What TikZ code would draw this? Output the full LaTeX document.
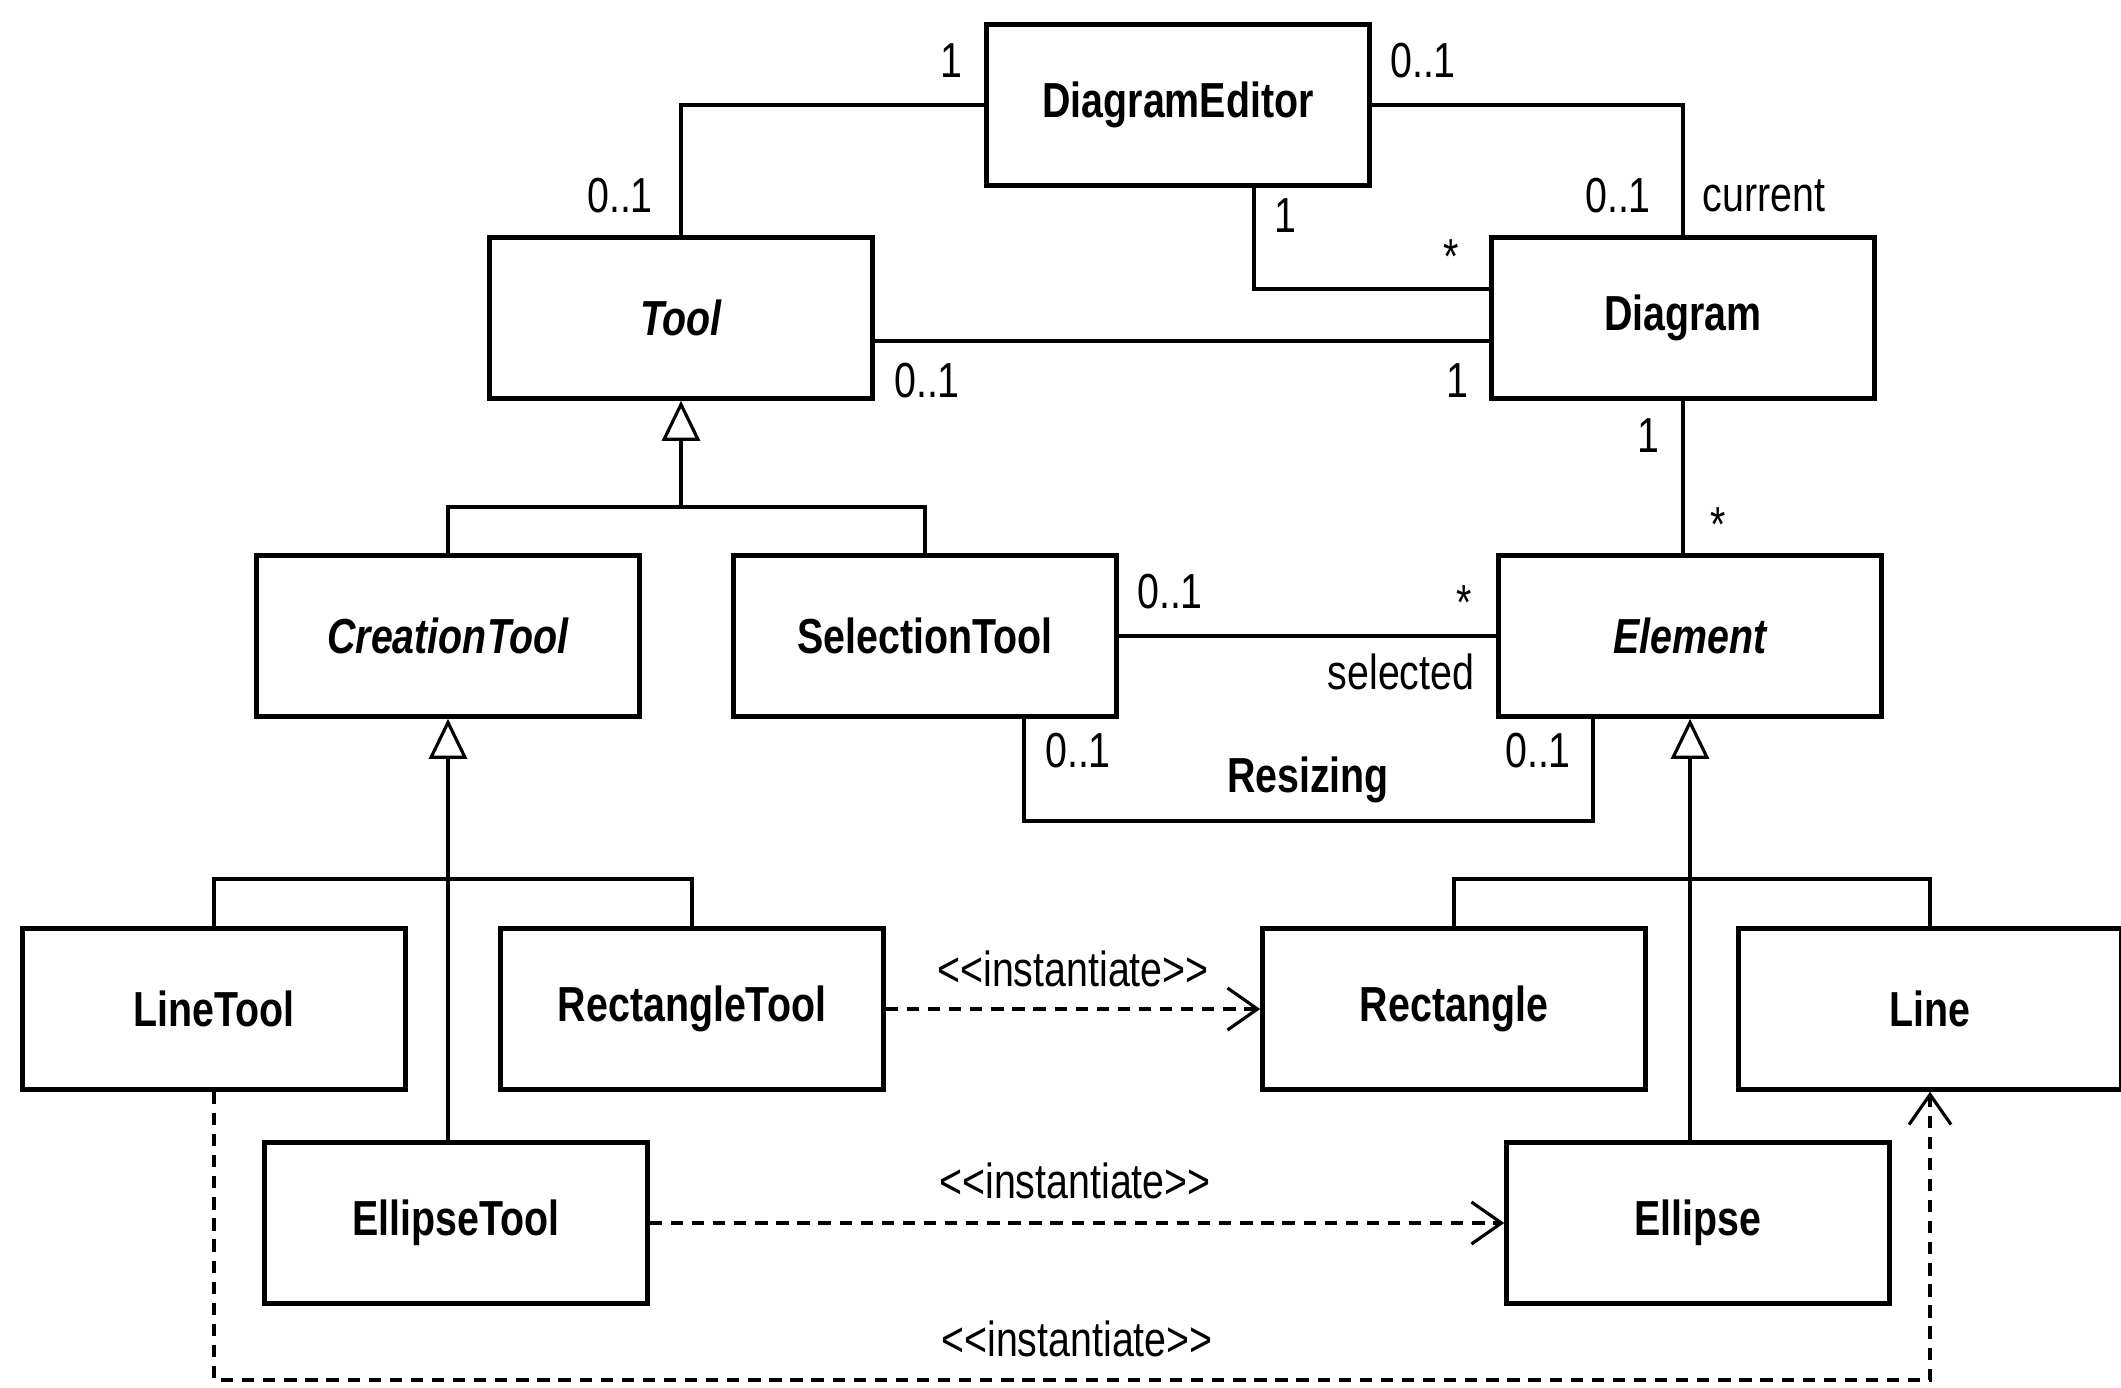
\documentclass[tikz,border=0pt]{standalone}
\usepackage{fontspec}
\setmainfont{Liberation Sans}[FakeStretch=0.8]
\usetikzlibrary{arrows.meta,calc}
\newcommand{\instlabel}{<\kern0pt<instantiate>\kern0pt>}

\begin{document}
\begin{tikzpicture}[x=0.1mm,y=-0.1mm,
    cls/.style={draw,line width=1.3pt,minimum width=3.83cm,minimum height=1.61cm,inner sep=0pt,font=\fontsize{14}{16}\selectfont\bfseries},
    abscls/.style={cls,font=\fontsize{14}{16}\selectfont\bfseries\itshape},
    mult/.style={font=\fontsize{14}{16}\selectfont,inner sep=0pt},
    assoc/.style={line width=0.9pt},
    gen/.style={line width=0.9pt,-{Triangle[open,length=0.4cm,width=0.38cm]}},
    inst/.style={line width=0.9pt,dash pattern=on 3.5pt off 2.5pt,-{Straight Barb[length=0.3cm,width=0.42cm]}}]
\useasboundingbox (0,0) rectangle (2121,1387);
% classes
\node[cls](DE)at(1178,105){DiagramEditor};
\node[abscls](Tool)at(681,318){Tool};
\node[cls](Diagram)at(1683,318){Diagram};
\node[abscls](CreationTool)at(448,636){CreationTool};
\node[cls](SelectionTool)at(925,636){SelectionTool};
\node[abscls](Element)at(1690,636){Element};
\node[cls](LineTool)at(214,1009){LineTool};
\node[cls](RectangleTool)at(692,1009){RectangleTool};
\node[cls](Rectangle)at(1454,1009){Rectangle};
\node[cls](Line)at(1930,1009){Line};
\node[cls](EllipseTool)at(456,1223){EllipseTool};
\node[cls](Ellipse)at(1698,1223){Ellipse};
% associations
\draw[assoc](DE.west)-|(Tool.north);
\draw[assoc](DE.east)-|(Diagram.north);
\draw[assoc]([xshift=0.76cm]DE.south)|-([yshift=0.29cm]Diagram.west);
\draw[assoc]([yshift=-0.23cm]Tool.east)--([yshift=-0.23cm]Diagram.west);
\draw[assoc](Diagram.south)--(Diagram.south|-Element.north);
\draw[assoc](SelectionTool.east)--(Element.west);
\coordinate(rsz)at(1300,821);
\draw[assoc]([xshift=0.99cm]SelectionTool.south)|-(rsz)-|([xshift=-0.97cm]Element.south);
% generalizations
\coordinate(toolfork)at(681,507);
\draw[assoc](CreationTool.north)|-(toolfork)-|(SelectionTool.north);
\draw[gen](toolfork)--(Tool.south);
\coordinate(ctfork)at(448,879);
\draw[assoc](LineTool.north)|-(ctfork)-|(RectangleTool.north);
\draw[gen](CreationTool.south|-EllipseTool.north)--(CreationTool.south);
\coordinate(elfork)at(1690,879);
\draw[assoc](Rectangle.north)|-(elfork)-|(Line.north);
\draw[gen](Element.south|-Ellipse.north)--(Element.south);
% dependencies
\draw[inst](RectangleTool.east)--(Rectangle.west);
\draw[inst](EllipseTool.east)--(Ellipse.west);
\coordinate(linst)at(1077,1380);
\draw[inst](LineTool.south)|-(linst)-|(Line.south);
% labels
\node[mult]at(951,61){1};
\node[mult]at(620,196){0..1};
\node[mult]at(1423,61){0..1};
\node[mult]at(1618,196){0..1};
\node[mult]at(1764,196){current};
\node[mult]at(1285,216){1};
\node[mult]at(1451,257){*};
\node[mult]at(927,381){0..1};
\node[mult]at(1457,381){1};
\node[mult]at(1648,436){1};
\node[mult]at(1718,525){*};
\node[mult]at(1170,592){0..1};
\node[mult]at(1464,603){*};
\node[mult]at(1401,672){selected};
\node[mult]at(1078,751){0..1};
\node[mult,font=\fontsize{14}{16}\selectfont\bfseries]at(1308,780){Resizing};
\node[mult]at(1538,751){0..1};
\node[mult]at(1073,969){\instlabel};
\node[mult]at(1075,1181){\instlabel};
\node[mult]at(1077,1339){\instlabel};
\end{tikzpicture}
\end{document}
